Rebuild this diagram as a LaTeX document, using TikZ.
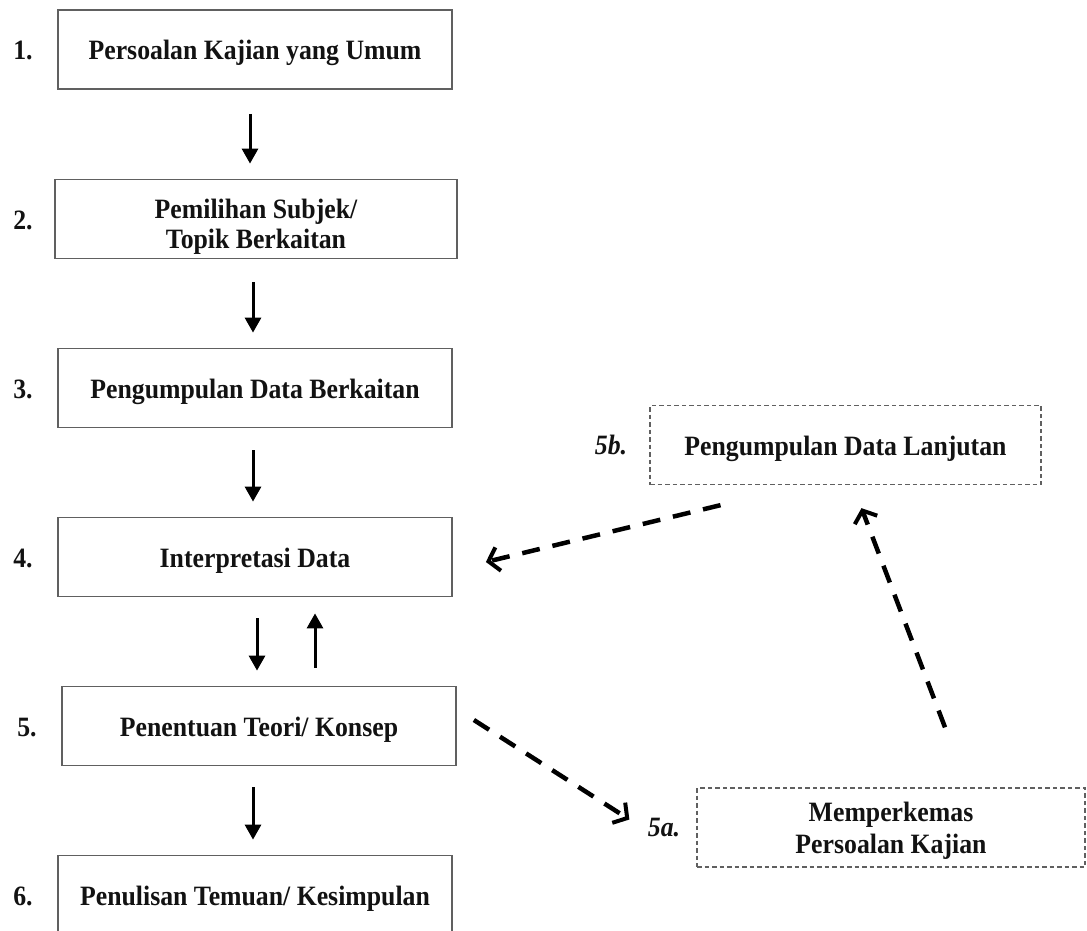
\documentclass[tikz,border=0pt]{standalone}
\usepackage{fontspec}
\setmainfont{Liberation Serif}[FakeStretch=0.92]
\usetikzlibrary{arrows.meta,calc}
\definecolor{boxgray}{HTML}{606060}
\definecolor{txt}{HTML}{121212}
\newcommand\myline[2]{\raisebox{-#1pt}[0pt][0pt]{#2}}
\newcommand\mytwo[3]{\raisebox{#1pt}[0pt][0pt]{\begin{tabular}[t]{@{}c@{}}#2\\#3\end{tabular}}}
\tikzset{
  stepbox/.style={draw=boxgray, line width=1.8pt, minimum height=79pt, inner sep=0pt,
    align=center, text=txt, font=\bfseries\fontsize{28}{30}\selectfont},
  dashbox/.style={draw=boxgray, line width=1.3pt, dash pattern=on 4.5pt off 3pt,
    minimum height=79pt, inner sep=0pt, align=center, text=txt,
    font=\bfseries\fontsize{28}{32}\selectfont},
  numlabel/.style={text=txt, inner sep=0pt, font=\bfseries\fontsize{28}{30}\selectfont},
  sublabel/.style={text=txt, inner sep=0pt, font=\bfseries\itshape\fontsize{28}{30}\selectfont},
  solidarrow/.style={line width=3pt, -{Triangle[length=15pt,width=16pt]}},
  dasharrow/.style={line width=4.5pt, dash pattern=on 18pt off 13pt,
    -{Straight Barb[length=10pt,width=24pt,line width=4pt]}},
}
\begin{document}
\begin{tikzpicture}[x=1pt,y=-1pt]
\useasboundingbox (0,0) rectangle (1087,931);
% main boxes
\node[stepbox, minimum width=394pt] (b1) at (255,49.5) {\myline{10}{Persoalan Kajian yang Umum}};
\node[stepbox, minimum width=402pt] (b2) at (256,219) {\mytwo{1}{Pemilihan Subjek/}{Topik Berkaitan}};
\node[stepbox, minimum width=394pt] (b3) at (255,388) {\myline{10}{Pengumpulan Data Berkaitan}};
\node[stepbox, minimum width=394pt] (b4) at (255,557) {\myline{10}{Interpretasi Data}};
\node[stepbox, minimum width=394pt] (b5) at (259,726) {\myline{10}{Penentuan Teori/ Konsep}};
\node[stepbox, minimum width=394pt] (b6) at (255,895) {\myline{10}{Penulisan Temuan/ Kesimpulan}};
% side boxes
\node[dashbox, minimum width=391pt] (b5b) at (845.5,445) {\myline{10}{Pengumpulan Data Lanjutan}};
\node[dashbox, minimum width=388pt] (b5a) at (891,827.5) {\mytwo{6.5}{Memperkemas}{Persoalan Kajian}};
% number labels
\node[numlabel] (l1) at (23,50) {\myline{10}{1.}};
\node[numlabel] (l2) at (23,219) {\myline{10}{2.}};
\node[numlabel] (l3) at (23,388) {\myline{10}{3.}};
\node[numlabel] (l4) at (23,557) {\myline{10}{4.}};
\node[numlabel] (l5) at (27,726) {\myline{10}{5.}};
\node[numlabel] (l6) at (23,895) {\myline{10}{6.}};
\node[sublabel] (l5b) at (611,445) {\myline{9}{5b.}};
\node[sublabel] (l5a) at (664,828) {\myline{8}{5a.}};
% solid arrows
\draw[solidarrow] ($(b1.south)+(-5,24)$) -- ($(b2.north)+(-6,-15)$);
\draw[solidarrow] ($(b2.south)+(-3,23)$) -- ($(b3.north)+(-2,-15)$);
\draw[solidarrow] ($(b3.south)+(-2,22)$) -- ($(b4.north)+(-2,-15)$);
\draw[solidarrow] ($(b4.south)+(2,21)$) -- ($(b5.north)+(-2,-15)$);
\draw[solidarrow] ($(b5.north)+(56,-18)$) -- ($(b4.south)+(60,16)$);
\draw[solidarrow] ($(b5.south)+(-6,21)$) -- ($(b6.north)+(-2,-15)$);
% dashed arrows
\draw[dasharrow] ($(b5.east)+(17,-6)$) -- ($(b5a.west)+(-67,-8)$);
\draw[dasharrow] ($(b5b.south)+(-125,20)$) -- ($(b4.east)+(33,5)$);
\draw[dasharrow] ($(b5a.north)+(54,-60)$) -- ($(b5b.south)+(16,23)$);
\end{tikzpicture}
\end{document}
